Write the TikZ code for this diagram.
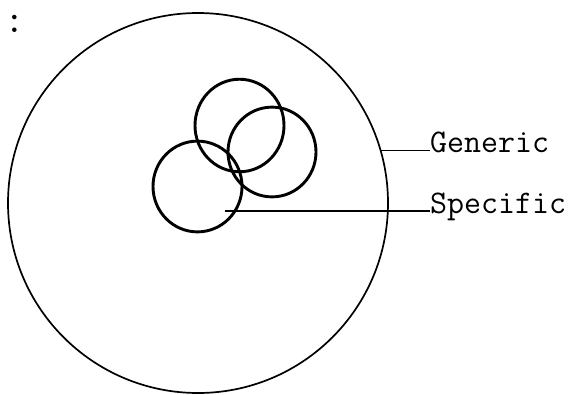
\documentclass[tikz,border=0pt]{standalone}
\begin{document}
\begin{tikzpicture}[x=1pt,y=-1pt,
  big/.style={draw,circle,line width=1.7pt,minimum size=380pt,inner sep=0pt},
  small/.style={draw,circle,line width=2.9pt,inner sep=0pt},
  lab/.style={anchor=mid west,inner sep=0pt,font=\fontsize{33}{33}\selectfont\ttfamily},
  lead/.style={line width=1.3pt}]
\useasboundingbox (0,0) rectangle (573,394);
\node[inner sep=0pt,font=\fontsize{40}{40}\selectfont\ttfamily] (colon) at (15,24) {:};
\node[big] (G) at (198,203) {};
\node[small,minimum width=89pt,yscale=1.04] (A) at (239.5,125.5) {};
\node[small,minimum width=88pt,yscale=1.02] (B) at (272,152) {};
\node[small,minimum width=89pt,yscale=1.02] (C) at (197.5,186.5) {};
\node[lab] (gl) at (G.16.5 -| 430,0) {Generic};
\node[lab] (sl) at (430,211) {Specific};
\coordinate (sp) at (225,211);
\draw[lead] (G.16.5) -- (gl.mid west);
\draw[lead] (sp) -- (sl.mid west);
\end{tikzpicture}
\end{document}
